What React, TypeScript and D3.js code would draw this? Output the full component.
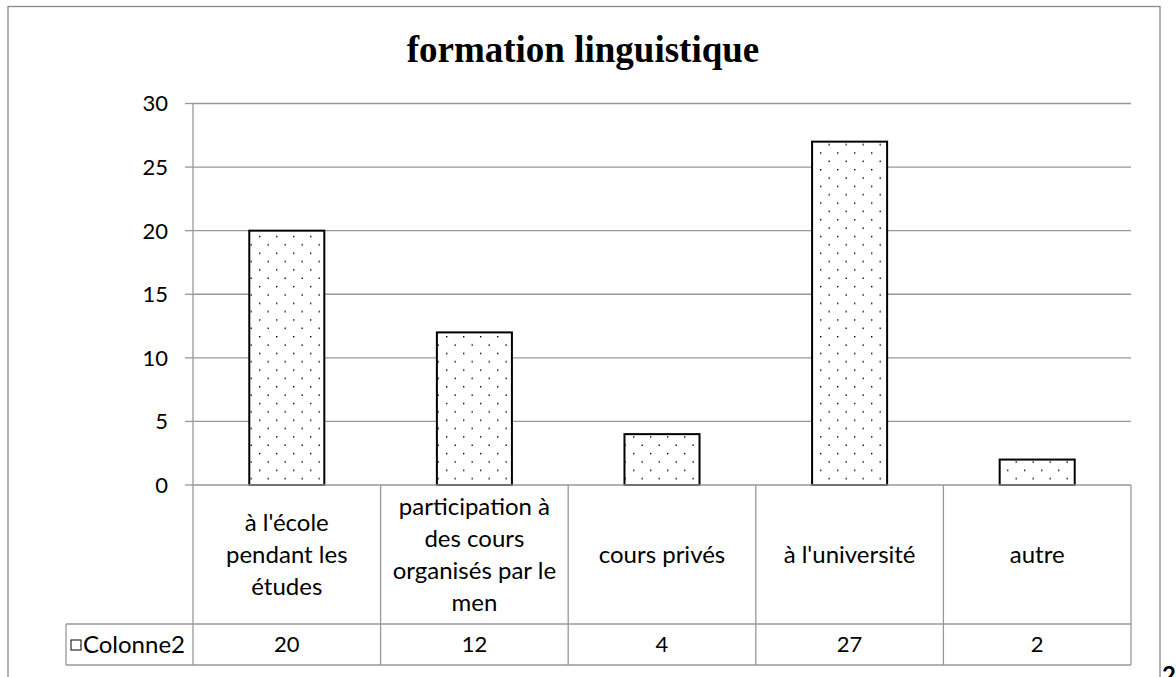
import React from "react";
import * as d3 from "d3";

const title = "formation linguistique";
const categories = [
  "à l'école pendant les études",
  "participation à des cours organisés par le men",
  "cours privés",
  "à l'université",
  "autre",
];
const categoryLines = [
  ["à l'école", "pendant les", "études"],
  ["participation à", "des cours", "organisés par le", "men"],
  ["cours privés"],
  ["à l'université"],
  ["autre"],
];
const seriesName = "Colonne2";
const values = [20, 12, 4, 27, 2];
const yTicks = [0, 5, 10, 15, 20, 25, 30];

const W = 1176;
const H = 677;
const plotLeft = 193;
const plotRight = 1131;
const plotTop = 103.5;
const plotBottom = 485;
const labelRowBottom = 624;
const valueRowBottom = 665;
const legendLeft = 66;
const sans = "Lato, 'Open Sans', sans-serif";
const grid = "#989898";

export default function App() {
  const x = d3.scaleBand<string>().domain(categories).range([plotLeft, plotRight]).padding(0);
  const y = d3.scaleLinear().domain([0, 30]).range([plotBottom, plotTop]);
  const bw = x.bandwidth();
  const barW = bw * 0.4;
  const lineH = 32;
  const labelMid = (plotBottom + labelRowBottom) / 2;
  const valueMid = (labelRowBottom + valueRowBottom) / 2;

  return (
    <svg width={W} height={H} style={{ position: "absolute", left: 0, top: 0 }}>
      <defs>
        <pattern id="dots" patternUnits="userSpaceOnUse" x={4} y={2} width={17} height={16.7}>
          <rect x={0} y={0} width={17} height={16.7} fill="#fff" />
          <rect x={0} y={0} width={1.4} height={1.4} fill="#000" />
          <rect x={8.5} y={8.35} width={1.4} height={1.4} fill="#000" />
        </pattern>
      </defs>
      <rect x={0} y={0} width={W} height={H} fill="#fff" />
      {/* outer border */}
      <rect x={8} y={6.5} width={1152} height={720} fill="none" stroke="#888" strokeWidth={1.3} />

      {/* title */}
      <text
        x={583}
        y={62}
        textAnchor="middle"
        fontFamily="'Liberation Serif', 'Times New Roman', serif"
        fontWeight="bold"
        fontSize={37}
        fill="#000"
      >
        {title}
      </text>

      {/* gridlines and ticks */}
      {yTicks.map((t) => (
        <g key={t}>
          {t > 0 && (
            <line x1={plotLeft} x2={plotRight} y1={y(t)} y2={y(t)} stroke={grid} strokeWidth={1.3} />
          )}
          <line x1={185} x2={plotLeft} y1={y(t)} y2={y(t)} stroke={grid} strokeWidth={1.3} />
          <text x={168} y={y(t)} dy="0.36em" textAnchor="end" fontFamily={sans} fontSize={22} fill="#000">
            {t}
          </text>
        </g>
      ))}

      {/* bars */}
      {categories.map((c, i) => {
        const cx = (x(c) as number) + bw / 2;
        return (
          <rect
            key={c}
            x={cx - barW / 2}
            y={y(values[i])}
            width={barW}
            height={plotBottom - y(values[i])}
            fill="url(#dots)"
            stroke="#000"
            strokeWidth={2}
          />
        );
      })}

      {/* data table */}
      <line x1={plotLeft} x2={plotRight} y1={plotBottom} y2={plotBottom} stroke={grid} strokeWidth={1.3} />
      <line x1={legendLeft} x2={plotRight} y1={labelRowBottom} y2={labelRowBottom} stroke={grid} strokeWidth={1.3} />
      <line x1={legendLeft} x2={plotRight} y1={valueRowBottom} y2={valueRowBottom} stroke={grid} strokeWidth={1.3} />
      <line x1={legendLeft} x2={legendLeft} y1={labelRowBottom} y2={valueRowBottom} stroke={grid} strokeWidth={1.3} />
      <line x1={plotLeft} x2={plotLeft} y1={plotTop} y2={valueRowBottom} stroke={grid} strokeWidth={1.3} />
      {categories.map((c) => (
        <line
          key={"v" + c}
          x1={(x(c) as number) + bw}
          x2={(x(c) as number) + bw}
          y1={plotBottom}
          y2={valueRowBottom}
          stroke={grid}
          strokeWidth={1.3}
        />
      ))}
      {categories.map((c, i) => {
        const cx = (x(c) as number) + bw / 2;
        const lines = categoryLines[i];
        const start = labelMid - ((lines.length - 1) * lineH) / 2;
        return (
          <g key={"l" + c}>
            {lines.map((ln, j) => (
              <text
                key={j}
                x={cx}
                y={start + j * lineH}
                dy="0.36em"
                textAnchor="middle"
                fontFamily={sans}
                fontSize={24}
                fill="#000"
              >
                {ln}
              </text>
            ))}
            <text x={cx} y={valueMid} dy="0.36em" textAnchor="middle" fontFamily={sans} fontSize={22} fill="#000">
              {values[i]}
            </text>
          </g>
        );
      })}

      {/* legend key */}
      <rect x={71} y={640} width={10} height={10} fill="url(#dots)" stroke="#000" strokeWidth={1} />
      <text x={185} y={valueMid} dy="0.36em" textAnchor="end" fontFamily={sans} fontSize={24} fill="#000">
        {seriesName}
      </text>

      {/* stray page text */}
      <text x={1162} y={684} fontFamily={sans} fontWeight="bold" fontSize={24} fill="#000">
        2
      </text>
    </svg>
  );
}
